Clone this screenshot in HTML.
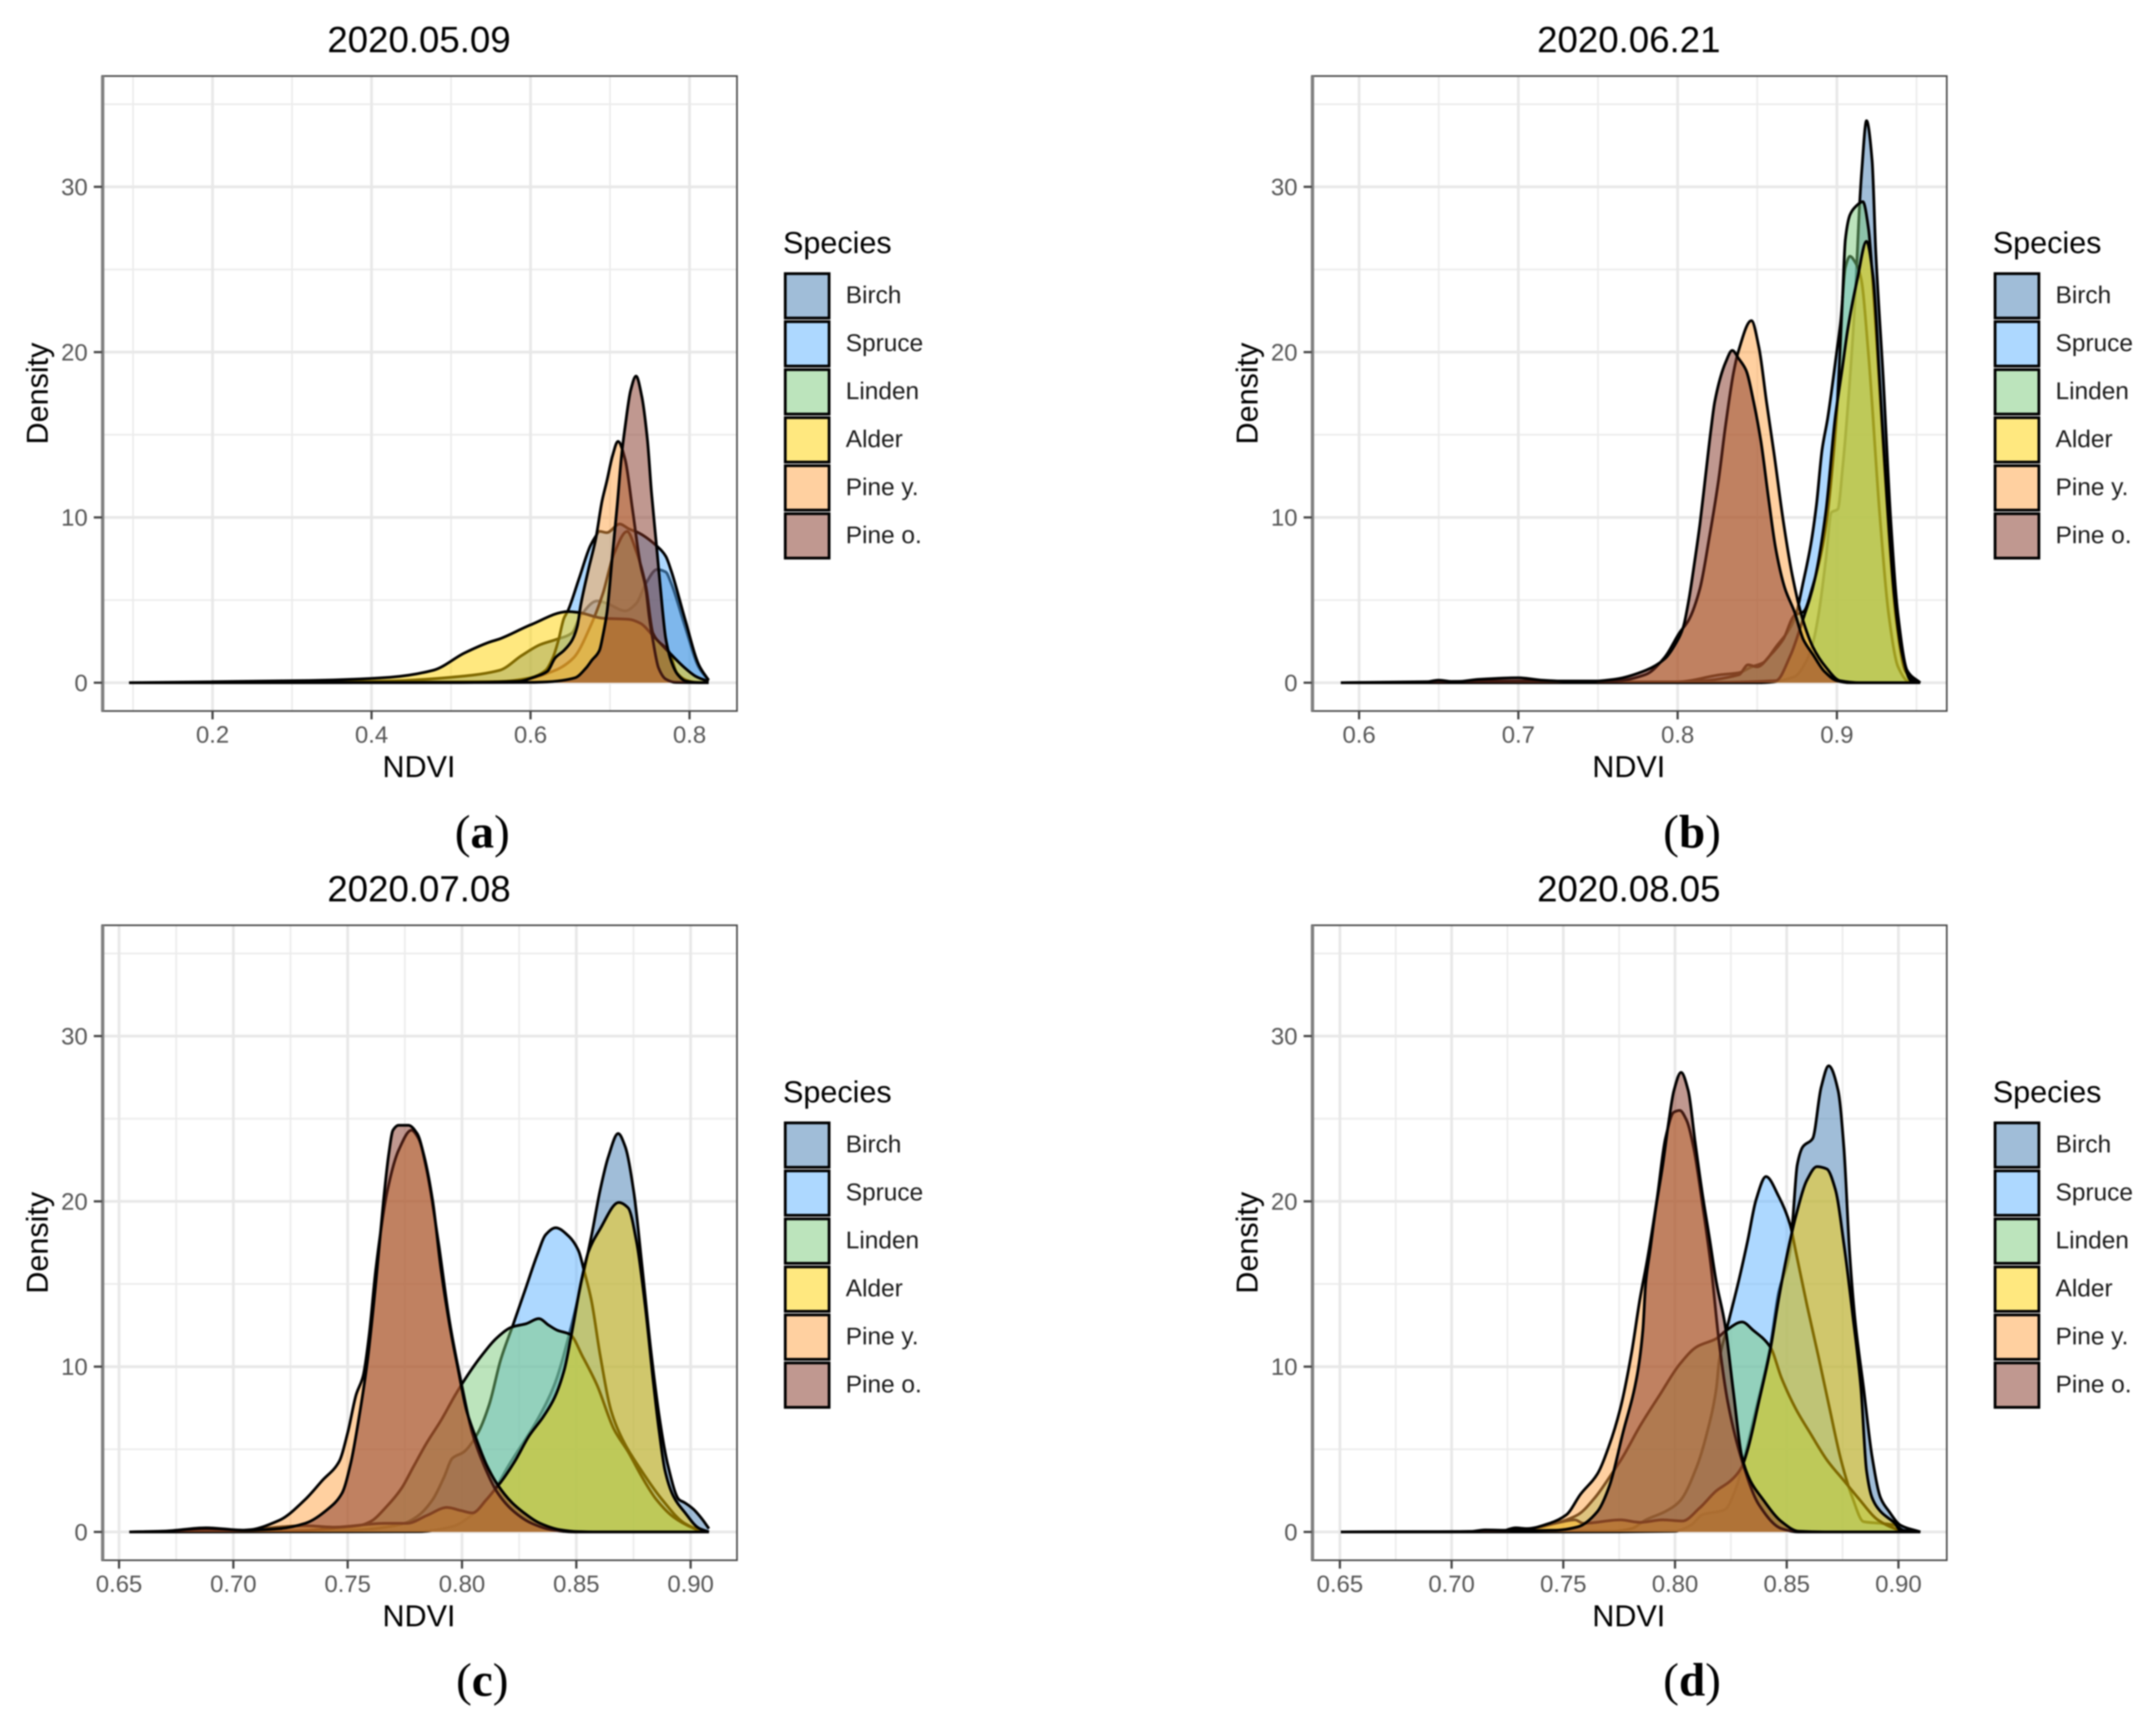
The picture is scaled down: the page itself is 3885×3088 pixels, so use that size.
<!DOCTYPE html>
<html lang="en">
<head>
<meta charset="utf-8">
<title>NDVI density by species</title>
<style>
html,body{margin:0;padding:0;background:#fff;width:3885px;height:3088px;overflow:hidden}
svg{display:block;filter:blur(1.2px)}
text{font-family:"Liberation Sans",sans-serif}
.title{font-size:66px;fill:#000;text-anchor:middle}
.axis-title{font-size:55px;fill:#000;text-anchor:middle}
.legend-title{font-size:55px;fill:#000}
.legend-label{font-size:44px;fill:#1a1a1a}
.letter{font-family:"Liberation Serif",serif;font-size:85px;fill:#000;text-anchor:middle}
.letter tspan{font-weight:bold}
.tick{font-size:43px;fill:#555}
.key{stroke:#000;stroke-width:5px;fill-opacity:.5}
</style>
</head>
<body>
<svg id="figure" xmlns="http://www.w3.org/2000/svg" width="3885" height="3088" viewBox="0 0 3885 3088">
<rect width="3885" height="3088" fill="#fff"/>
<g id="marks"></g>

<g>
  <text class="title" x="755" y="94">2020.05.09</text>
  <text class="axis-title" x="755" y="1400">NDVI</text>
  <text class="axis-title" transform="translate(86,709) rotate(-90)">Density</text>
  <text class="letter" x="869" y="1527">(<tspan>a</tspan>)</text>
  <g>
    <text class="legend-title" x="1411" y="456">Species</text>
    <rect class="key" x="1415" y="493" width="79" height="80" fill="#417bb1"/><text class="legend-label" x="1524" y="546">Birch</text>
    <rect class="key" x="1415" y="579.5" width="79" height="80" fill="#5bb1ff"/><text class="legend-label" x="1524" y="632.5">Spruce</text>
    <rect class="key" x="1415" y="666" width="79" height="80" fill="#79c979"/><text class="legend-label" x="1524" y="719">Linden</text>
    <rect class="key" x="1415" y="752.5" width="79" height="80" fill="#ffd100"/><text class="legend-label" x="1524" y="805.5">Alder</text>
    <rect class="key" x="1415" y="839" width="79" height="80" fill="#ffa141"/><text class="legend-label" x="1524" y="892">Pine y.</text>
    <rect class="key" x="1415" y="925.5" width="79" height="80" fill="#813121"/><text class="legend-label" x="1524" y="978.5">Pine o.</text>
  </g>
</g>

<g transform="translate(2180,0)">
  <text class="title" x="755" y="94">2020.06.21</text>
  <text class="axis-title" x="755" y="1400">NDVI</text>
  <text class="axis-title" transform="translate(86,709) rotate(-90)">Density</text>
  <text class="letter" x="869" y="1527">(<tspan>b</tspan>)</text>
  <g>
    <text class="legend-title" x="1411" y="456">Species</text>
    <rect class="key" x="1415" y="493" width="79" height="80" fill="#417bb1"/><text class="legend-label" x="1524" y="546">Birch</text>
    <rect class="key" x="1415" y="579.5" width="79" height="80" fill="#5bb1ff"/><text class="legend-label" x="1524" y="632.5">Spruce</text>
    <rect class="key" x="1415" y="666" width="79" height="80" fill="#79c979"/><text class="legend-label" x="1524" y="719">Linden</text>
    <rect class="key" x="1415" y="752.5" width="79" height="80" fill="#ffd100"/><text class="legend-label" x="1524" y="805.5">Alder</text>
    <rect class="key" x="1415" y="839" width="79" height="80" fill="#ffa141"/><text class="legend-label" x="1524" y="892">Pine y.</text>
    <rect class="key" x="1415" y="925.5" width="79" height="80" fill="#813121"/><text class="legend-label" x="1524" y="978.5">Pine o.</text>
  </g>
</g>

<g transform="translate(0,1530)">
  <text class="title" x="755" y="94">2020.07.08</text>
  <text class="axis-title" x="755" y="1400">NDVI</text>
  <text class="axis-title" transform="translate(86,709) rotate(-90)">Density</text>
  <text class="letter" x="869" y="1525">(<tspan>c</tspan>)</text>
  <g>
    <text class="legend-title" x="1411" y="456">Species</text>
    <rect class="key" x="1415" y="493" width="79" height="80" fill="#417bb1"/><text class="legend-label" x="1524" y="546">Birch</text>
    <rect class="key" x="1415" y="579.5" width="79" height="80" fill="#5bb1ff"/><text class="legend-label" x="1524" y="632.5">Spruce</text>
    <rect class="key" x="1415" y="666" width="79" height="80" fill="#79c979"/><text class="legend-label" x="1524" y="719">Linden</text>
    <rect class="key" x="1415" y="752.5" width="79" height="80" fill="#ffd100"/><text class="legend-label" x="1524" y="805.5">Alder</text>
    <rect class="key" x="1415" y="839" width="79" height="80" fill="#ffa141"/><text class="legend-label" x="1524" y="892">Pine y.</text>
    <rect class="key" x="1415" y="925.5" width="79" height="80" fill="#813121"/><text class="legend-label" x="1524" y="978.5">Pine o.</text>
  </g>
</g>

<g transform="translate(2180,1530)">
  <text class="title" x="755" y="94">2020.08.05</text>
  <text class="axis-title" x="755" y="1400">NDVI</text>
  <text class="axis-title" transform="translate(86,709) rotate(-90)">Density</text>
  <text class="letter" x="869" y="1525">(<tspan>d</tspan>)</text>
  <g>
    <text class="legend-title" x="1411" y="456">Species</text>
    <rect class="key" x="1415" y="493" width="79" height="80" fill="#417bb1"/><text class="legend-label" x="1524" y="546">Birch</text>
    <rect class="key" x="1415" y="579.5" width="79" height="80" fill="#5bb1ff"/><text class="legend-label" x="1524" y="632.5">Spruce</text>
    <rect class="key" x="1415" y="666" width="79" height="80" fill="#79c979"/><text class="legend-label" x="1524" y="719">Linden</text>
    <rect class="key" x="1415" y="752.5" width="79" height="80" fill="#ffd100"/><text class="legend-label" x="1524" y="805.5">Alder</text>
    <rect class="key" x="1415" y="839" width="79" height="80" fill="#ffa141"/><text class="legend-label" x="1524" y="892">Pine y.</text>
    <rect class="key" x="1415" y="925.5" width="79" height="80" fill="#813121"/><text class="legend-label" x="1524" y="978.5">Pine o.</text>
  </g>
</g>
</svg>

<script>
/* ---------- tick values ---------- */
const densityTicks = [0, 10, 20, 30];
const densityMinorTicks = [5, 15, 25, 35];
const xTicksA = [0.2, 0.4, 0.6, 0.8];
const xMinorA = [0.1, 0.3, 0.5, 0.7];
const xLabelsA = ["0.2", "0.4", "0.6", "0.8"];
const xTicksB = [0.6, 0.7, 0.8, 0.9];
const xMinorB = [0.65, 0.75, 0.85, 0.95];
const xLabelsB = ["0.6", "0.7", "0.8", "0.9"];
const xTicksCD = [0.65, 0.70, 0.75, 0.80, 0.85, 0.90];
const xMinorCD = [0.675, 0.725, 0.775, 0.825, 0.875];
const xLabelsCD = ["0.65", "0.70", "0.75", "0.80", "0.85", "0.90"];

/* ---------- categories ---------- */
const speciesNames = ["birch", "spruce", "linden", "alder", "pine-young", "pine-old"];
const speciesColors = ["#417bb1", "#5bb1ff", "#79c979", "#ffd100", "#ffa141", "#813121"];

/* ---------- panel a: 2020.05.09 ---------- */
const aBirchNdvi = [0.095,0.3,0.42,0.5,0.561,0.589,0.612,0.631,0.652,0.663,0.684,0.696,0.719,0.733,0.745,0.759,0.77,0.777,0.794,0.812,0.824];
const aBirchDensity = [0,0.02,0.1,0.33,0.75,1.65,2.3,2.6,3.0,4.05,4.95,4.8,4.35,4.8,6,6.85,6.7,6,3.45,0.9,0.15];
const aSpruceNdvi = [0.095,0.4,0.561,0.6,0.619,0.628,0.635,0.642,0.647,0.661,0.675,0.682,0.6866,0.696,0.712,0.724,0.7355,0.759,0.77,0.777,0.794,0.812,0.824];
const aSpruceDensity = [0,0.02,0.07,0.3,0.75,1.5,2.55,3.9,4.35,6.3,8.26,8.86,9.16,9.08,9.6,9.3,9.08,8.26,7.66,6.76,3.9,1.05,0.15];
const aLindenNdvi = [0.095,0.5,0.58,0.631,0.654,0.677,0.691,0.705,0.7215,0.733,0.745,0.754,0.775,0.784,0.796,0.808,0.824];
const aLindenDensity = [0,0.02,0.1,0.75,1.5,3.6,5.4,7.8,9.15,7.95,5.85,3,1.8,0.6,0.15,0.02,0];
const aAlderNdvi = [0.095,0.322,0.423,0.478,0.517,0.548,0.561,0.6,0.647,0.66,0.691,0.724,0.738,0.754,0.775,0.794,0.808,0.824];
const aAlderDensity = [0,0.13,0.33,0.76,1.8,2.45,2.65,3.5,4.3,4.25,3.9,3.83,3.6,2.85,1.8,0.9,0.38,0.07];
const aPineYoungNdvi = [0.095,0.5,0.584,0.607,0.621,0.631,0.642,0.652,0.659,0.663,0.6726,0.682,0.69,0.696,0.703,0.71,0.719,0.7285,0.738,0.745,0.7495,0.754,0.761,0.77,0.782,0.824];
const aPineYoungDensity = [0,0.01,0.08,0.38,0.68,1.5,1.95,2.55,3.45,4.65,6.8,8.7,11,12.2,13.7,14.6,13.5,10.4,7.2,5.7,3.9,2.55,0.9,0.22,0.02,0];
const aPineOldNdvi = [0.095,0.5,0.6,0.621,0.656,0.67,0.677,0.6866,0.691,0.696,0.703,0.709,0.7146,0.719,0.726,0.7327,0.74,0.747,0.752,0.759,0.766,0.77,0.777,0.785,0.795,0.81,0.824];
const aPineOldDensity = [0,0.01,0.02,0.05,0.3,0.9,1.35,1.95,2.85,4.2,7.7,10.7,13.8,15.5,17.7,18.55,17.3,14.7,11.6,8,4.4,2.7,1.3,0.5,0.1,0.01,0];

/* ---------- panel b: 2020.06.21 ---------- */
const bBirchNdvi = [0.5885,0.8,0.8523,0.8733,0.8802,0.8849,0.8884,0.893,0.8965,0.9006,0.9035,0.9082,0.9117,0.914,0.9157,0.9186,0.9221,0.9244,0.9291,0.9337,0.9384,0.9442,0.9523];
const bBirchDensity = [0,0,0,0.36,1.2,2.4,4.07,7.4,10.3,10.5,12.9,18.4,23.7,28.5,31.1,34,31.6,26.1,18.4,10,4.07,0.72,0];
const bSpruceNdvi = [0.5885,0.8,0.8267,0.8384,0.8465,0.8535,0.8616,0.8733,0.8791,0.8837,0.8872,0.8907,0.8942,0.9,0.9023,0.9053,0.9082,0.9117,0.9151,0.9198,0.9268,0.9326,0.9384,0.9454,0.9523];
const bSpruceDensity = [0,0.05,0.48,0.6,0.96,1.2,2.15,3.83,6.2,8.4,10.8,14.1,16,20.1,21.8,25.1,25.8,25.4,24.5,19.9,10.3,4.07,0.96,0.05,0];
const bLindenNdvi = [0.5885,0.8023,0.8384,0.8442,0.85,0.8582,0.8663,0.8733,0.8791,0.8849,0.8907,0.8942,0.8965,0.9,0.9035,0.9053,0.9082,0.9117,0.9163,0.9198,0.9233,0.928,0.9326,0.9372,0.943,0.95,0.9523];
const bLindenDensity = [0,0.05,0.48,1.08,0.96,1.67,2.63,4.07,4.3,5.86,8.13,10.3,12.4,16.5,23.2,26.8,28.3,28.8,29.1,27.5,23.2,16,9.1,3.83,0.72,0.05,0];
const bAlderNdvi = [0.5885,0.8,0.8616,0.8709,0.8779,0.886,0.893,0.8989,0.9035,0.907,0.9128,0.9186,0.9227,0.9268,0.9314,0.9361,0.9407,0.9465,0.9523];
const bAlderDensity = [0,0,0.12,1.67,3.6,6.2,10.3,16,19.1,21.5,24.4,26.7,24.6,18.4,11.2,5.26,1.9,0.12,0];
const bPineYoungNdvi = [0.5885,0.7,0.76,0.78,0.792,0.801,0.807,0.814,0.82,0.8256,0.83,0.835,0.838,0.8463,0.851,0.8558,0.8605,0.8663,0.872,0.878,0.885,0.893,0.902,0.915,0.9523];
const bPineYoungDensity = [0,0.1,0.1,0.5,1.55,3,3.8,5.7,8.85,12.2,15.5,18.7,20,21.9,20.3,17,13.9,9.8,6.5,4,2.15,0.95,0.12,0,0];
const bPineOldNdvi = [0.5885,0.64,0.65,0.66,0.675,0.7,0.715,0.74,0.76,0.78,0.792,0.799,0.8035,0.807,0.8105,0.814,0.8174,0.8209,0.8233,0.8302,0.8343,0.8384,0.843,0.8477,0.8523,0.857,0.8616,0.8674,0.8733,0.879,0.885,0.892,0.9,0.908,0.9523];
const bPineOldDensity = [0,0.02,0.15,0.05,0.2,0.3,0.15,0.05,0.2,0.75,1.45,2.4,3.35,5,7.2,9.6,12.4,15.3,17,19.4,20.1,19.6,18.9,17,14.6,11.2,8.1,5.7,4.3,2.6,1.7,0.7,0.12,0,0];

/* ---------- panel c: 2020.07.08 ---------- */
const cBirchNdvi = [0.6545,0.72,0.781,0.7958,0.8058,0.8132,0.8206,0.833,0.8404,0.8466,0.8566,0.8603,0.864,0.8683,0.8714,0.8751,0.8788,0.8826,0.8863,0.89,0.8949,0.8974,0.9012,0.9049,0.908];
const cBirchDensity = [0,0.01,0.02,0.33,1.2,2.34,4.07,6.8,8.9,11.8,17.9,20.6,22.7,24.1,23.3,20.6,16,11,6.96,4.07,1.96,1.77,1.38,0.8,0.2];
const cSpruceNdvi = [0.6545,0.7314,0.7562,0.7686,0.7748,0.781,0.7872,0.7921,0.7958,0.8008,0.807,0.8119,0.8169,0.8225,0.828,0.833,0.8367,0.841,0.8466,0.851,0.8534,0.8566,0.8603,0.8652,0.8702,0.8776,0.8875,0.8974,0.9049,0.908];
const cSpruceDensity = [0,0.02,0.13,0.33,0.52,1,1.96,3.3,4.46,4.84,6,7.7,10.4,12.6,14.8,16.8,18,18.4,17.9,17,15.8,14,10.8,7.34,5.6,3.9,1.96,0.52,0.08,0];
const cLindenNdvi = [0.6545,0.7,0.7314,0.7438,0.755,0.7599,0.7673,0.7735,0.7785,0.7847,0.7909,0.7971,0.8014,0.8082,0.8157,0.8219,0.8281,0.8336,0.838,0.8417,0.8473,0.8528,0.859,0.8665,0.8727,0.8788,0.885,0.8925,0.9012,0.906,0.908];
const cLindenDensity = [0,0.02,0.08,0.23,0.38,0.62,1.58,2.63,3.88,5.42,6.77,8.3,9.26,10.6,11.8,12.4,12.6,12.9,12.5,12.2,11.95,10.6,8.9,6.2,4.84,3.3,1.96,0.9,0.23,0,0];
const cAlderNdvi = [0.6545,0.7,0.7314,0.7438,0.7661,0.776,0.7847,0.7934,0.7996,0.8045,0.8107,0.8157,0.8169,0.8231,0.8293,0.8355,0.8404,0.8448,0.8479,0.8522,0.8553,0.8603,0.8686,0.8727,0.8764,0.8801,0.8838,0.8863,0.8888,0.8925,0.8974,0.9036,0.908];
const cAlderDensity = [0,0.08,0.38,0.29,0.52,0.52,1,1.48,1.29,1.15,1.96,2.8,3,4.27,5.8,6.96,8.1,9.84,11.95,15.2,16.95,18.3,19.93,19.6,17.5,13.7,8.9,6,3.7,2.15,1.19,0.23,0];
const cPineYoungNdvi = [0.6545,0.67,0.688,0.705,0.72,0.7314,0.7388,0.7463,0.75,0.7537,0.7568,0.7593,0.7624,0.7673,0.7723,0.7779,0.781,0.7847,0.7897,0.7946,0.7996,0.8045,0.8095,0.8157,0.8231,0.8305,0.8392,0.8492,0.908];
const cPineYoungDensity = [0,0.03,0.2,0.1,0.7,1.96,3.1,4.27,6,8.3,9.46,11.8,16,20.6,23.1,24.3,23.8,21.8,17.5,12.7,9.07,6,4.07,2.34,1.19,0.52,0.13,0,0];
const cPineOldNdvi = [0.6545,0.67,0.688,0.705,0.72,0.7314,0.7413,0.7475,0.7512,0.755,0.7587,0.7624,0.7655,0.768,0.7698,0.7723,0.7766,0.7804,0.7835,0.7872,0.7909,0.7946,0.7983,0.802,0.8058,0.8107,0.8157,0.8219,0.8268,0.8342,0.8429,0.8504,0.858,0.908];
const cPineOldDensity = [0,0.05,0.25,0.1,0.2,0.52,1.38,2.34,4.07,6.96,10.4,15.2,19.8,22.9,24.3,24.6,24.6,24.1,22.7,20,15.8,12.5,9.84,7.34,5.8,4.07,2.83,1.77,1.19,0.52,0.13,0.02,0,0];

/* ---------- panel d: 2020.08.05 ---------- */
const dBirchNdvi = [0.6504,0.75,0.7995,0.8071,0.8122,0.8223,0.8274,0.8312,0.8363,0.8426,0.8464,0.8515,0.8528,0.8547,0.8572,0.8616,0.8654,0.8688,0.873,0.8756,0.8781,0.8806,0.8844,0.8882,0.892,0.8958,0.9009,0.9098];
const dBirchDensity = [0,0,0.04,0.41,1.04,1.35,2.69,4.56,7.46,11.2,14.5,17,19.06,22.2,23.3,23.8,26.9,28.2,26.7,23.2,17,12.8,8.7,4.56,2.07,1.24,0.41,0];
const dSpruceNdvi = [0.6504,0.7717,0.7805,0.7869,0.7957,0.8021,0.8097,0.8147,0.8185,0.8198,0.823,0.8287,0.8325,0.8363,0.8407,0.8464,0.8515,0.854,0.8591,0.8642,0.8692,0.8743,0.8794,0.8844,0.892,0.8984,0.9022,0.9098];
const dSpruceDensity = [0,0.04,0.2,0.73,1.24,1.86,3.94,6.2,8.7,10.4,12.2,15.3,17.6,20.1,21.5,20.3,18.6,17,13.7,10.6,7.46,4.35,2.07,0.62,0.52,0.41,0.1,0];
const dLindenNdvi = [0.6504,0.7,0.7362,0.7463,0.7565,0.7641,0.7717,0.7767,0.7843,0.7932,0.8021,0.8097,0.8185,0.823,0.83,0.835,0.8426,0.8477,0.854,0.8604,0.868,0.8756,0.8819,0.8908,0.8984,0.9034,0.9098];
const dLindenDensity = [0,0.02,0.2,0.52,1.04,2.07,3.52,4.56,6.4,8.3,10.15,11.2,11.7,12.2,12.7,12.2,11.2,9.3,7.46,6,4.35,3.1,2.07,0.73,0.2,0,0];
const dAlderNdvi = [0.6504,0.721,0.7337,0.7463,0.7552,0.759,0.7755,0.7843,0.7945,0.8033,0.811,0.8185,0.8249,0.8299,0.8325,0.8375,0.8426,0.8464,0.8502,0.854,0.8591,0.8635,0.8679,0.8718,0.8756,0.8794,0.8832,0.8857,0.8882,0.892,0.8984,0.9015,0.9098];
const dAlderDensity = [0,0,0.17,0.52,0.73,0.52,0.73,0.58,0.73,0.66,1.45,2.49,3.1,3.94,4.97,7.87,11,14.1,16.8,19.06,21.3,22.1,21.96,20.7,17.4,13.26,8.7,3.73,2.07,1.24,0.52,0,0];
const dPineYoungNdvi = [0.6504,0.69,0.721,0.7286,0.7337,0.7438,0.7514,0.7577,0.7653,0.7704,0.7755,0.7805,0.7843,0.7875,0.7919,0.7957,0.7995,0.8021,0.8052,0.8084,0.8122,0.816,0.8198,0.8236,0.8299,0.8375,0.8477,0.8553,0.9098];
const dPineYoungDensity = [0,0.01,0,0.25,0.2,0.52,1.04,2.28,3.52,5.18,7.46,10.8,14.1,16.4,20.1,23.8,25.4,25.5,24.9,23.2,19.9,16.2,11.4,7.87,4.35,1.66,0.2,0,0];
const dPineOldNdvi = [0.6504,0.708,0.715,0.73,0.7463,0.7565,0.7653,0.7704,0.7767,0.7831,0.7856,0.7869,0.7888,0.7913,0.7945,0.797,0.7995,0.8027,0.8059,0.809,0.8122,0.8154,0.8185,0.8223,0.8261,0.8299,0.8337,0.8388,0.8477,0.8553,0.867,0.9098];
const dPineOldDensity = [0,0.02,0.12,0.08,0.1,0.31,1.24,2.69,6,9.53,12.2,15.1,17,19.5,22.2,24.65,26.7,27.8,26.7,23.6,20.5,17.8,15.1,12.6,8.5,4.56,3.1,2.07,0.62,0.04,0,0];

/* ---------- build ---------- */
const SVGNS = "http://www.w3.org/2000/svg";
const root = document.getElementById("marks");
const Y_PER_UNIT = 29.78;

function panelConfig(id, left, top, zeroY, refNdvi, refX, perUnit, ticks, minors, labels, series) {
  return { id, left, right: left + 1144, top, bottom: top + 1144, zeroY, refNdvi, refX, perUnit, ticks, minors, labels, series };
}

const panels = [
  panelConfig("a", 184, 137, 1230, 0.2, 383, 1432.5, xTicksA, xMinorA, xLabelsA, [
    [aBirchNdvi, aBirchDensity], [aSpruceNdvi, aSpruceDensity], [aLindenNdvi, aLindenDensity],
    [aAlderNdvi, aAlderDensity], [aPineYoungNdvi, aPineYoungDensity], [aPineOldNdvi, aPineOldDensity]]),
  panelConfig("b", 2364, 137, 1230, 0.8, 3023, 2870, xTicksB, xMinorB, xLabelsB, [
    [bBirchNdvi, bBirchDensity], [bSpruceNdvi, bSpruceDensity], [bLindenNdvi, bLindenDensity],
    [bAlderNdvi, bAlderDensity], [bPineYoungNdvi, bPineYoungDensity], [bPineOldNdvi, bPineOldDensity]]),
  panelConfig("c", 184, 1667, 2760, 0.75, 626.5, 4120, xTicksCD, xMinorCD, xLabelsCD, [
    [cBirchNdvi, cBirchDensity], [cSpruceNdvi, cSpruceDensity], [cLindenNdvi, cLindenDensity],
    [cAlderNdvi, cAlderDensity], [cPineYoungNdvi, cPineYoungDensity], [cPineOldNdvi, cPineOldDensity]]),
  panelConfig("d", 2364, 1667, 2760, 0.75, 2817, 4026, xTicksCD, xMinorCD, xLabelsCD, [
    [dBirchNdvi, dBirchDensity], [dSpruceNdvi, dSpruceDensity], [dLindenNdvi, dLindenDensity],
    [dAlderNdvi, dAlderDensity], [dPineYoungNdvi, dPineYoungDensity], [dPineOldNdvi, dPineOldDensity]])
];

function mk(tag, attrs, parent) {
  const el = document.createElementNS(SVGNS, tag);
  for (const k in attrs) el.setAttribute(k, attrs[k]);
  parent.appendChild(el);
  return el;
}

/* monotone cubic through pixel points */
function monotonePath(px, py) {
  const n = px.length;
  if (n < 2) return "";
  const dx = [], m = [], t = new Array(n);
  for (let i = 0; i < n - 1; i++) {
    dx.push(px[i + 1] - px[i]);
    m.push((py[i + 1] - py[i]) / dx[i]);
  }
  t[0] = m[0];
  t[n - 1] = m[n - 2];
  for (let i = 1; i < n - 1; i++) {
    if (m[i - 1] * m[i] <= 0) {
      t[i] = 0;
    } else {
      const w1 = 2 * dx[i] + dx[i - 1], w2 = dx[i] + 2 * dx[i - 1];
      t[i] = (w1 + w2) / (w1 / m[i - 1] + w2 / m[i]);
    }
  }
  let d = "M" + px[0].toFixed(1) + "," + py[0].toFixed(1);
  for (let i = 0; i < n - 1; i++) {
    const h = dx[i] / 3;
    d += "C" + (px[i] + h).toFixed(1) + "," + (py[i] + t[i] * h).toFixed(1) + " " +
      (px[i + 1] - h).toFixed(1) + "," + (py[i + 1] - t[i + 1] * h).toFixed(1) + " " +
      px[i + 1].toFixed(1) + "," + py[i + 1].toFixed(1);
  }
  return d;
}

panels.forEach(function (p) {
  const xScale = function (v) { return p.refX + (v - p.refNdvi) * p.perUnit; };
  const yScale = function (v) { return p.zeroY - v * Y_PER_UNIT; };

  const g = mk("g", {}, root);
  
  

  const bg = mk("rect", { x: p.left, y: p.top, width: p.right - p.left, height: p.bottom - p.top, fill: "#fff" }, g);
  
  

  const grid = mk("g", {}, g);
  
  
  p.minors.forEach(function (v) {
    const x = xScale(v);
    if (x > p.left && x < p.right) mk("line", { x1: x, x2: x, y1: p.top, y2: p.bottom, stroke: "#ececec", "stroke-width": 3 }, grid);
  });
  densityMinorTicks.forEach(function (v) {
    const y = yScale(v);
    mk("line", { x1: p.left, x2: p.right, y1: y, y2: y, stroke: "#ececec", "stroke-width": 3 }, grid);
  });
  p.ticks.forEach(function (v) {
    const x = xScale(v);
    mk("line", { x1: x, x2: x, y1: p.top, y2: p.bottom, stroke: "#e8e8e8", "stroke-width": 5 }, grid);
  });
  densityTicks.forEach(function (v) {
    const y = yScale(v);
    mk("line", { x1: p.left, x2: p.right, y1: y, y2: y, stroke: "#e8e8e8", "stroke-width": 5 }, grid);
  });

  p.series.forEach(function (s, i) {
    const px = s[0].map(xScale);
    const py = s[1].map(yScale);
    const curve = monotonePath(px, py);
    const group = mk("g", {}, g);
    
    
    const area = mk("path", {
      d: curve + "L" + px[px.length - 1].toFixed(1) + "," + p.zeroY + "L" + px[0].toFixed(1) + "," + p.zeroY + "Z",
      fill: speciesColors[i], "fill-opacity": 0.5, stroke: "none"
    }, group);
    
    
    const line = mk("path", {
      d: curve, fill: "none", stroke: "#000", "stroke-width": 5, "stroke-linejoin": "round"
    }, group);
    
    
  });

  const border = mk("rect", {
    x: p.left, y: p.top, width: p.right - p.left, height: p.bottom - p.top,
    fill: "none", stroke: "#4a4a4a", "stroke-width": 3
  }, g);
  
  

  const leftEdge = mk("line", { x1: p.left + 1, x2: p.left + 1, y1: p.top, y2: p.bottom, stroke: "#808080", "stroke-width": 6 }, g);
  
  

  const xAxis = mk("g", {}, g);
  
  
  p.ticks.forEach(function (v, i) {
    const x = xScale(v);
    const mark = mk("line", { x1: x, x2: x, y1: p.bottom, y2: p.bottom + 15, stroke: "#444", "stroke-width": 4 }, xAxis);
    
    
    const label = mk("text", { x: x, y: p.bottom + 57, "text-anchor": "middle", class: "tick" }, xAxis);
    
    
    label.textContent = p.labels[i];
  });

  const yAxis = mk("g", {}, g);
  
  
  densityTicks.forEach(function (v) {
    const y = yScale(v);
    const mark = mk("line", { x1: p.left - 15, x2: p.left, y1: y, y2: y, stroke: "#444", "stroke-width": 4 }, yAxis);
    
    
    const label = mk("text", { x: p.left - 26, y: y + 15, "text-anchor": "end", class: "tick" }, yAxis);
    
    
    label.textContent = String(v);
  });
});
</script>
</body>
</html>
